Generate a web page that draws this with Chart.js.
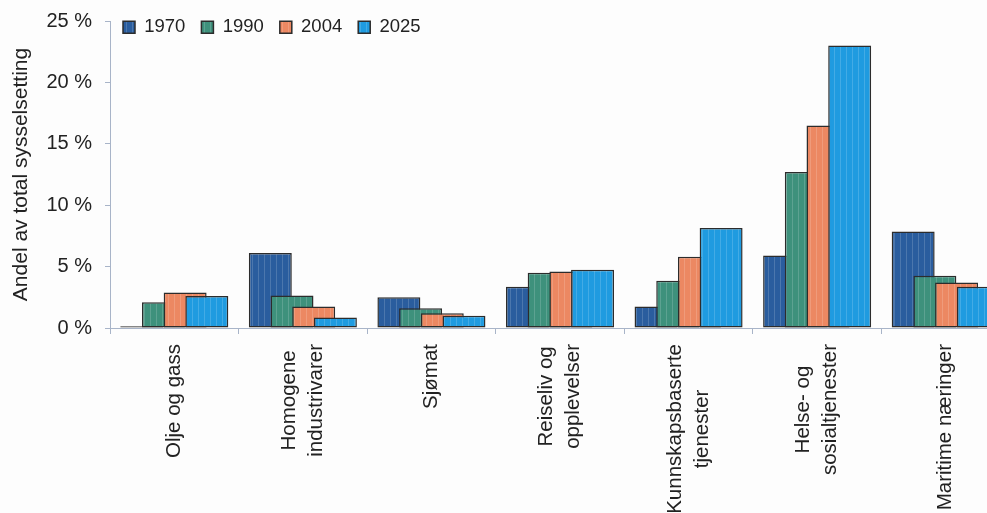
<!DOCTYPE html>
<html>
<head>
<meta charset="utf-8">
<script src="https://cdn.jsdelivr.net/npm/chart.js@4"></script>
<style>
  html, body { margin: 0; padding: 0; background: #fdfdfd; overflow: hidden; }
  #wrap { width: 1010px; height: 513px; }
</style>
</head>
<body>
<div id="wrap"><canvas id="barChart"></canvas></div>
<script>
// categories and values (percent of total employment)
const categories = [
    ['Olje og gass'],
    ['Homogene', 'industrivarer'],
    ['Sjømat'],
    ['Reiseliv og', 'opplevelser'],
    ['Kunnskapsbaserte', 'tjenester'],
    ['Helse- og', 'sosialtjenester'],
    ['Maritime næringer']
];
const years = ['1970', '1990', '2004', '2025'];
const v1970 = [0.15, 6.1, 2.5, 3.35, 1.75, 5.9, 7.85];
const v1990 = [2.1, 2.65, 1.6, 4.5, 3.85, 12.7, 4.25];
const v2004 = [2.9, 1.75, 1.2, 4.6, 5.8, 16.5, 3.7];
const v2025 = [2.6, 0.85, 1.0, 4.75, 8.15, 23.0, 3.35];
const yTicks = [0, 5, 10, 15, 20, 25];

const colors = ['#2a5d9e', '#3e917c', '#ec8862', '#1f9be0'];
const family = '"Liberation Sans", Arial, sans-serif';

// light vertical stripes like the printed bars
function stripes(base) {
    const c = document.createElement('canvas');
    c.width = 6; c.height = 4;
    const g = c.getContext('2d');
    g.fillStyle = base;
    g.fillRect(0, 0, 6, 4);
    g.fillStyle = 'rgba(255,255,255,0.16)';
    g.fillRect(0, 0, 1, 4);
    return g.createPattern(c, 'repeat');
}

// later series drawn on top of earlier ones
const drawForward = {
    id: 'drawForward',
    beforeDatasetsDraw(chart) {
        const ctx = chart.ctx;
        ctx.save();
        chart.getSortedVisibleDatasetMetas().forEach(m => m.controller.draw());
        ctx.restore();
        return false;
    }
};

// legend on one row inside the plot, taking no layout space
const legendInside = {
    id: 'legendInside',
    beforeLayout(chart) {
        const lg = chart.legend;
        if (lg && !lg._patched) {
            const fit = lg.fit;
            lg.fit = function () { fit.call(this); this.height = 0; };
            lg._patched = true;
        }
    },
    afterLayout(chart) {
        const lg = chart.legend;
        lg.left = 107;
        lg.top = 2;
        lg.bottom = 60;
        lg.height = 58;
    }
};

// rotated category names, lines centred on each other, ending near the axis
const catLabels = {
    id: 'catLabels',
    afterDraw(chart) {
        const ctx = chart.ctx;
        const x = chart.scales.x;
        const lineGap = 27;
        ctx.save();
        ctx.font = '20.5px ' + family;
        ctx.fillStyle = '#222';
        ctx.textAlign = 'center';
        ctx.textBaseline = 'middle';
        categories.forEach((lines, i) => {
            const px = x.getPixelForTick(i);
            const w = Math.max(...lines.map(s => ctx.measureText(s).width));
            ctx.save();
            ctx.translate(px, x.top + 16);
            ctx.rotate(-Math.PI / 2);
            lines.forEach((s, j) => {
                ctx.fillText(s, -w / 2, (j - (lines.length - 1) / 2) * lineGap);
            });
            ctx.restore();
        });
        ctx.restore();
    }
};

const ctx = document.getElementById('barChart').getContext('2d');
const myChart = new Chart(ctx, {
    type: 'bar',
    data: {
        labels: categories.map(l => l.join(' ')),
        datasets: [v1970, v1990, v2004, v2025].map((d, i) => ({
            label: years[i],
            data: d,
            backgroundColor: stripes(colors[i]),
            borderColor: '#2c2c2c',
            borderWidth: 1.5,
            borderSkipped: false,
            categoryPercentage: 0.675,
            barPercentage: 1.98
        }))
    },
    options: {
        responsive: true,
        maintainAspectRatio: false,
        animation: false,
        layout: { padding: { top: 21, left: 6, right: 0, bottom: 0 } },
        plugins: {
            tooltip: { enabled: false },
            legend: {
                position: 'top',
                align: 'start',
                fullSize: false,
                labels: {
                    color: '#222',
                    font: { family: family, size: 18.5 },
                    boxWidth: 12,
                    boxHeight: 12,
                    padding: 16
                }
            }
        },
        scales: {
            x: {
                grid: { drawOnChartArea: false, tickLength: 6, color: '#a8b4c8' },
                border: { color: '#a8b4c8', width: 1 },
                ticks: { display: false },
                afterFit(scale) { scale.height = 185; }
            },
            y: {
                min: 0,
                max: 25,
                afterBuildTicks(scale) { scale.ticks = yTicks.map(v => ({ value: v })); },
                grid: { drawOnChartArea: false, tickLength: 5, color: '#a8b4c8' },
                border: { color: '#a8b4c8', width: 1 },
                ticks: { color: '#222', font: { family: family, size: 20 }, padding: 13, callback: v => v + ' %' },
                title: {
                    display: true,
                    text: 'Andel av total sysselsetting',
                    color: '#222',
                    font: { family: family, size: 21 },
                    padding: { top: 3, bottom: 3 }
                },
                afterFit(scale) {
                    scale.width = 104;
                    scale.paddingTop = 0;
                    scale.paddingBottom = 0;
                }
            }
        }
    },
    plugins: [drawForward, legendInside, catLabels]
});
</script>
</body>
</html>
